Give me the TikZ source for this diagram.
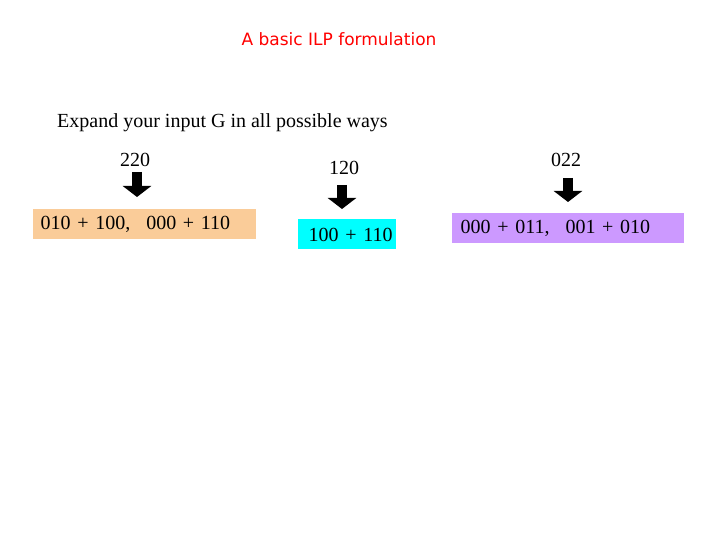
\documentclass[tikz,border=0pt]{standalone}
\usepackage{fontspec}
\setmainfont{Liberation Serif}
\newfontfamily\titlefont{DejaVu Sans}
\usetikzlibrary{arrows.meta}
\definecolor{peach}{RGB}{250,204,153}
\definecolor{cyanb}{RGB}{0,255,255}
\definecolor{lav}{RGB}{204,153,255}
\begin{document}
\begin{tikzpicture}[x=1pt,y=-1pt,
  lbl/.style={font=\fontsize{20}{22}\selectfont, inner sep=0},
  bx/.style={font=\fontsize{20}{22}\selectfont, inner sep=0, anchor=north west, minimum height=30pt, text height=14pt,align=left},
  blk/.style={line width=10pt, -{Triangle[width=28pt,length=11pt]}}]
\useasboundingbox (0,0) rectangle (720,540);
\node[text=red, font=\titlefont\fontsize{17}{19}\selectfont, inner sep=0] (t) at (339,39) {A basic ILP formulation};
\node[lbl, anchor=west] (e) at (57,123) {Expand your input G in all possible ways};
\node[lbl] (l1) at (135,160) {220};
\node[lbl] (l2) at (344,168) {120};
\node[lbl] (l3) at (566,160) {022};
\node[bx, fill=peach, minimum width=223pt, text width=220pt] (b1) at (33,209) {\hspace{6pt}010 + 100,\hspace{0.8em}000 + 110};
\node[bx, fill=cyanb, minimum width=98pt, text width=95pt] (b2) at (298,219) {\hspace{9pt}100 + 110};
\node[bx, fill=lav, minimum width=232pt, text width=229pt] (b3) at (452,213) {\hspace{7pt}000 + 011,\hspace{0.8em}001 + 010};
\coordinate (a1s) at (137,172); \coordinate (a1e) at (137,197);
\coordinate (a2s) at (342,185); \coordinate (a2e) at (342,209);
\coordinate (a3s) at (568,178); \coordinate (a3e) at (568,202);
\draw[blk] (a1s) -- (a1e);
\draw[blk] (a2s) -- (a2e);
\draw[blk] (a3s) -- (a3e);
\end{tikzpicture}
\end{document}
